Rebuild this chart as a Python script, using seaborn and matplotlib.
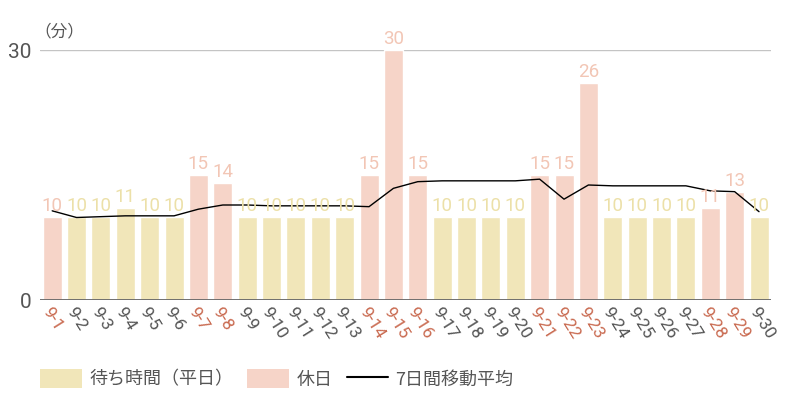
import matplotlib
matplotlib.use('Agg')
import matplotlib.pyplot as plt
import seaborn as sns
import pandas as pd
from matplotlib.patches import Patch
from matplotlib.lines import Line2D

# data
days = [f'9-{d}' for d in range(1, 31)]
wait_minutes = [10, 10, 10, 11, 10, 10, 15, 14, 10, 10,
                10, 10, 10, 15, 30, 15, 10, 10, 10, 10,
                15, 15, 26, 10, 10, 10, 10, 11, 13, 10]
holidays = ['9-1', '9-7', '9-8', '9-14', '9-15', '9-16', '9-21', '9-22', '9-23', '9-28', '9-29']
moving_avg = [10.7, 9.9, 10.0, 10.1, 10.1, 10.1, 10.9, 11.4, 11.4, 11.3,
              11.3, 11.3, 11.3, 11.2, 13.4, 14.2, 14.3, 14.3, 14.3, 14.3,
              14.5, 12.1, 13.8, 13.7, 13.7, 13.7, 13.7, 13.1, 13.0, 10.6]

weekday_col = '#f1e6b9'
holiday_col = '#f6d4c8'
weekday_txt = '#ece0a8'
holiday_txt = '#f2c6b5'
holiday_tick = '#c96a50'
grey = '#555555'

df = pd.DataFrame({'day': days, 'minutes': wait_minutes, 'ma': moving_avg})
df['kind'] = ['休日' if d in holidays else '平日' for d in days]

sns.set_style('white')
plt.rcParams['font.family'] = ['Noto Sans CJK JP', 'DejaVu Sans']

fig = plt.figure(figsize=(8, 4), dpi=100)
ax = fig.add_axes([0.05, 0.25, 0.914, 0.625])

sns.barplot(data=df, x='day', y='minutes', hue='kind', dodge=False, width=0.78,
            palette={'平日': weekday_col, '休日': holiday_col}, legend=False, ax=ax,
            saturation=1)
sns.lineplot(data=df, x='day', y='ma', color='black', linewidth=1, ax=ax)

# value labels
for i, (v, k) in enumerate(zip(wait_minutes, df['kind'])):
    ax.text(i, v + 0.25, str(v), ha='center', va='bottom', fontsize=13.5,
            color=holiday_txt if k == '休日' else weekday_txt, family=['Roboto'],
            clip_on=False)

ax.set_xlim(-0.5, 29.5)
ax.set_ylim(0, 30)
ax.set_yticks([0, 30])
ax.set_yticklabels(['0', '30'], family=['Roboto'], fontsize=15, color=grey)
ax.tick_params(axis='y', length=0, pad=6)
ax.axhline(30, color='#c4c4c4', linewidth=1, zorder=0)
ax.axhline(0, color='#666666', linewidth=1.3, zorder=3)
for s in ax.spines.values():
    s.set_visible(False)
ax.set_xlabel('')
ax.set_ylabel('')

ax.tick_params(axis='x', length=0, pad=3)
ax.set_xticks(range(len(days)))
ax.set_xticklabels(days, rotation=-58, ha='left', rotation_mode='anchor',
                   fontsize=12.5, family=['Roboto'])
for lbl in ax.get_xticklabels():
    lbl.set_color(holiday_tick if lbl.get_text() in holidays else grey)

fig.text(0.043, 0.9, '（分）', fontsize=12, color=grey, ha='left', va='bottom')

handles = [Patch(facecolor=weekday_col, edgecolor='none'),
           Patch(facecolor=holiday_col, edgecolor='none'),
           Line2D([], [], color='black', linewidth=1.5)]
fig.legend(handles, ['待ち時間（平日）', '休日', '7日間移動平均'], loc='lower left',
           bbox_to_anchor=(0.03, -0.012), ncol=3, frameon=False, fontsize=13,
           handlelength=2.3, handleheight=1.2, columnspacing=0.8, handletextpad=0.4,
           labelcolor=grey)

fig.savefig('out.png', dpi=100)
